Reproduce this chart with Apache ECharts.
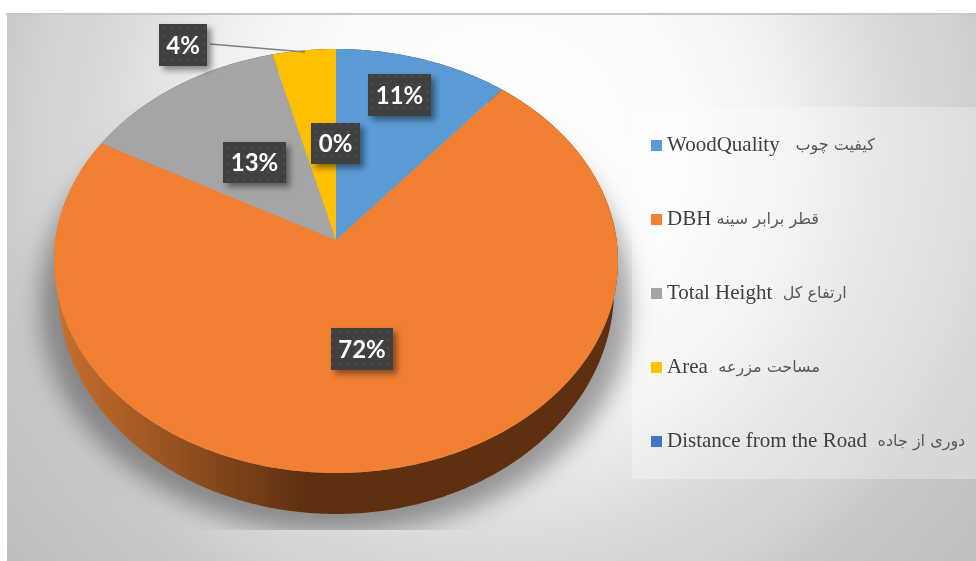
<!DOCTYPE html>
<html>
<head>
<meta charset="utf-8">
<style>html,body{margin:0;padding:0;background:#fff}#chart{width:976px;height:561px}</style>
<script src="https://cdn.jsdelivr.net/npm/echarts@6/dist/echarts.min.js"></script>
</head>
<body>
<div id="chart"></div>
<script>
// Share of each factor, in percent
const latinNames = ['WoodQuality', 'DBH', 'Total Height', 'Area', 'Distance from the Road'];
const persianNames = ['کیفیت چوب', 'قطر برابر سینه', 'ارتفاع کل', 'مساحت مزرعه', 'دوری از جاده'];
const gaps = ['   ', ' ', '  ', '  ', '  '];
const shares = [11, 72, 13, 4, 0];
const colors = ['#5b9bd5', '#f28033', '#a5a5a5', '#ffc000', '#4472c4'];

// Callout boxes: left, top, width, height of each value label
const labelBoxes = [
  [368, 74, 63, 42],
  [331, 328, 62, 42],
  [223, 142, 63, 41],
  [159, 24, 48, 42],
  [311, 123, 49, 41]
];

// Tilted disc: a circle under a projective map, so the hub sits above the ellipse centre
const hub = { x: 336, y: 240 };
const tilt = { a: 209.9, b: 280.6, k: -0.099 };
// Lower rim of the disc
const rim = { x: 336, y: 290, rx: 278, ry: 224 };

const rad = d => d * Math.PI / 180;
const total = shares.reduce((s, v) => s + v, 0);
const startAngle = i => shares.slice(0, i).reduce((s, v) => s + v, 0) / total * 360;

function topPoint(deg) {
  const u = Math.sin(rad(deg)), v = -Math.cos(rad(deg));
  const d = 1 + tilt.k * v;
  return [hub.x + tilt.b * u / d, hub.y + tilt.a * v / d];
}
function rimPoint(deg) {
  return [rim.x + rim.rx * Math.sin(rad(deg)), rim.y - rim.ry * Math.cos(rad(deg))];
}
function arc(fn, from, to) {
  const n = Math.max(2, Math.ceil(Math.abs(to - from) * 2));
  const pts = [];
  for (let i = 0; i <= n; i++) pts.push(fn(from + (to - from) * i / n));
  return pts;
}

// Dotted fill of the callout boxes
const dots = document.createElement('canvas');
dots.width = dots.height = 8;
(function () {
  const c = dots.getContext('2d');
  c.fillStyle = '#404040';
  c.fillRect(0, 0, 8, 8);
  c.fillStyle = '#4d4d4d';
  c.fillRect(3, 3, 2, 2);
})();

const ellipsePath = (cx, cy, rx, ry) => arc(d => [cx + rx * Math.sin(rad(d)), cy - ry * Math.cos(rad(d))], 0, 360);

const series = [];

// Soft shadow under the disc: the casting shape sits off the canvas so only its blur lands here
const shadowShift = 1400;
series.push({
  type: 'custom', name: 'shadow', coordinateSystem: 'none', silent: true, z: 2,
  data: [0],
  renderItem: () => ({
    type: 'polygon',
    shape: { points: ellipsePath(336 - shadowShift, 304, 296, 229) },
    clipPath: { type: 'rect', shape: { x: -shadowShift, y: 0, width: 976 + shadowShift, height: 530 } },
    style: { fill: '#000', shadowColor: 'rgba(0,0,0,0.36)', shadowBlur: 24, shadowOffsetX: shadowShift }
  })
});

// Side wall: each slice swept down to the lower rim
series.push({
  type: 'custom', name: 'wall', coordinateSystem: 'none', silent: true, z: 4,
  data: shares,
  renderItem: (params, api) => {
    const i = params.dataIndex;
    if (api.value(0) <= 0) return { type: 'group', children: [] };
    const a = startAngle(i), b = a + api.value(0) / total * 360;
    return {
      type: 'polygon',
      shape: { points: arc(topPoint, a, b).concat(arc(rimPoint, b, a)) },
      style: {
        fill: {
          type: 'linear', x: 54, y: 0, x2: 305, y2: 0, global: true,
          colorStops: [{ offset: 0, color: '#c9702e' }, { offset: 1, color: '#5e3010' }]
        }
      }
    };
  }
});

// Top face, one series per factor so that the legend lists them by name
latinNames.forEach((name, i) => {
  series.push({
    type: 'custom', name, coordinateSystem: 'none', silent: true, z: 5,
    itemStyle: { color: colors[i] },
    data: [shares[i]],
    renderItem: (params, api) => {
      const v = api.value(0);
      if (v <= 0) return { type: 'group', children: [] };
      const a = startAngle(i), b = a + v / total * 360;
      return {
        type: 'polygon',
        shape: { points: [[hub.x, hub.y]].concat(arc(topPoint, a, b)) },
        style: { fill: colors[i] }
      };
    }
  });
});

// Percentage callouts with the leader line of the small slice
series.push({
  type: 'custom', name: 'labels', coordinateSystem: 'none', silent: true, z: 6,
  data: shares,
  renderItem: (params, api) => {
    const i = params.dataIndex;
    const [x, y, w, h] = labelBoxes[i];
    const children = [
      {
        type: 'rect', shape: { x, y, width: w, height: h },
        style: { fill: { image: dots, repeat: 'repeat' }, shadowColor: 'rgba(0,0,0,0.45)', shadowBlur: 6, shadowOffsetX: 4, shadowOffsetY: 4 }
      },
      {
        type: 'text', z2: 2,
        style: {
          text: api.value(0) + '%', x: x + w / 2, y: y + h / 2 + 1,
          align: 'center', verticalAlign: 'middle',
          font: 'bold 24px Lato, "Open Sans", sans-serif', fill: '#ffffff'
        }
      }
    ];
    if (i === 3) {
      children.unshift({
        type: 'line',
        shape: { x1: x + w + 3, y1: 44, x2: 305, y2: 52 },
        style: { stroke: '#7f7f7f', lineWidth: 1.5 }
      });
    }
    return { type: 'group', children };
  }
});

const richText = {
  en: { fontFamily: '"Liberation Serif", serif', fontSize: 21, color: '#404040', lineHeight: 24 },
  fa: { fontFamily: '"DejaVu Sans", sans-serif', fontSize: 16, color: '#595959', lineHeight: 24 }
};

const option = {
  animation: false,
  graphic: {
    elements: [
      { type: 'rect', z: 0, silent: true, shape: { x: 6, y: 13, width: 970, height: 2 }, style: { fill: '#c8c8c8' } },
      {
        type: 'rect', z: 0, silent: true,
        shape: { x: 7, y: 15, width: 969, height: 546 },
        style: {
          fill: {
            type: 'radial', x: 500, y: 150, r: 640, global: true,
            colorStops: [
              { offset: 0, color: '#ffffff' },
              { offset: 0.3, color: '#fcfcfc' },
              { offset: 0.45, color: '#f0f0f0' },
              { offset: 0.6, color: '#dddddd' },
              { offset: 0.74, color: '#d0d0d0' },
              { offset: 0.8, color: '#c8c8c8' },
              { offset: 1, color: '#bebebe' }
            ]
          }
        }
      },
      // Pale panel behind the legend
      {
        type: 'rect', z: 3, silent: true,
        shape: { x: 632, y: 107, width: 344, height: 372 },
        style: { fill: 'rgba(255,255,255,0.30)' }
      }
    ]
  },
  legend: {
    orient: 'vertical',
    left: 651,
    top: 135,
    padding: 0,
    z: 7,
    silent: true,
    selectedMode: false,
    data: latinNames,
    icon: 'rect',
    itemWidth: 11,
    itemHeight: 11,
    itemGap: 53,
    align: 'left',
    formatter: name => {
      const i = latinNames.indexOf(name);
      return '{en|' + name + gaps[i] + '}{fa|' + persianNames[i] + '}';
    },
    textStyle: { rich: richText }
  },
  series
};

const chart = echarts.init(document.getElementById('chart'), null, { renderer: 'canvas' });
chart.setOption(option);
</script>
</body>
</html>
